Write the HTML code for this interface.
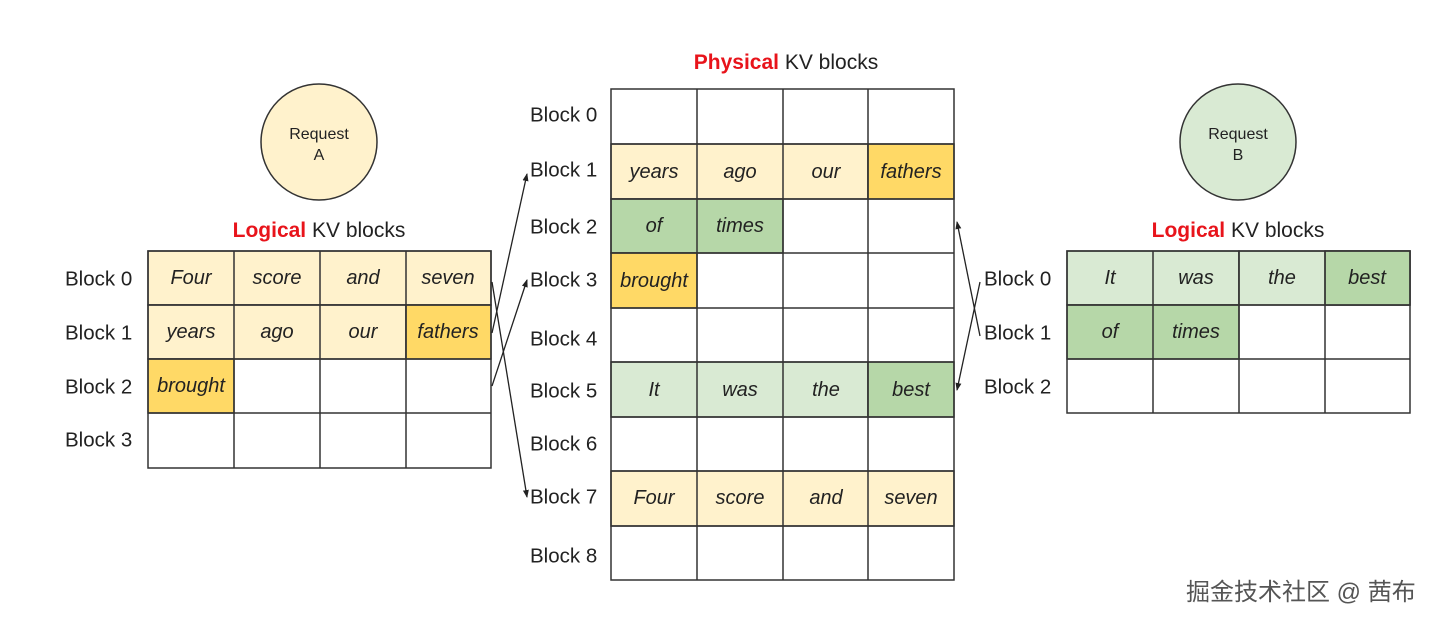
<!DOCTYPE html>
<html><head><meta charset="utf-8"><style>
html,body{margin:0;padding:0;background:#fff;width:1440px;height:624px;overflow:hidden}
svg text{font-family:"Liberation Sans",Arial,sans-serif;fill:#222}
.c{font-style:italic;font-size:20px;text-anchor:middle;dominant-baseline:central}
.l{font-size:20.5px;dominant-baseline:central}
.t{font-size:21px;text-anchor:middle}
</style></head><body>
<svg width="1440" height="624" viewBox="0 0 1440 624" xmlns="http://www.w3.org/2000/svg">
<defs><marker id="a" markerWidth="8" markerHeight="8" refX="7" refY="4" orient="auto" markerUnits="userSpaceOnUse"><path d="M0,1 L8,4 L0,7 z" fill="#222"/></marker></defs>
<circle cx="319" cy="142" r="58" fill="#fff2cc" stroke="#333" stroke-width="1.5"/>
<text x="319" y="139" font-size="16" text-anchor="middle">Request</text>
<text x="319" y="160" font-size="16" text-anchor="middle">A</text>
<circle cx="1238" cy="142" r="58" fill="#d9ead3" stroke="#333" stroke-width="1.5"/>
<text x="1238" y="139" font-size="16" text-anchor="middle">Request</text>
<text x="1238" y="160" font-size="16" text-anchor="middle">B</text>
<text class="t" x="319" y="237"><tspan style="fill:#e8141b;font-weight:bold">Logical</tspan> KV blocks</text>
<text class="t" x="1238" y="237"><tspan style="fill:#e8141b;font-weight:bold">Logical</tspan> KV blocks</text>
<text class="t" x="786" y="69"><tspan style="fill:#e8141b;font-weight:bold">Physical</tspan> KV blocks</text>
<g stroke="#333" stroke-width="1.5">
<rect x="148" y="251" width="343" height="54" fill="#fff2cc"/>
<rect x="148" y="305" width="258" height="54" fill="#fff2cc"/>
<rect x="406" y="305" width="85" height="54" fill="#ffd966"/>
<rect x="148" y="359" width="86" height="54" fill="#ffd966"/>
<rect x="148" y="251" width="343" height="217" fill="none"/>
<path d="M234 251V468M320 251V468M406 251V468M148 305H491M148 359H491M148 413H491" fill="none"/>
</g>
<text class="c" x="191" y="278">Four</text><text class="c" x="277" y="278">score</text><text class="c" x="363" y="278">and</text><text class="c" x="448" y="278">seven</text>
<text class="c" x="191" y="332">years</text><text class="c" x="277" y="332">ago</text><text class="c" x="363" y="332">our</text><text class="c" x="448" y="332">fathers</text>
<text class="c" x="191" y="386">brought</text>
<text class="l" x="65" y="279">Block 0</text><text class="l" x="65" y="333">Block 1</text><text class="l" x="65" y="387">Block 2</text><text class="l" x="65" y="440">Block 3</text>
<g stroke="#333" stroke-width="1.5">
<rect x="611" y="144" width="257" height="55" fill="#fff2cc"/>
<rect x="868" y="144" width="86" height="55" fill="#ffd966"/>
<rect x="611" y="199" width="172" height="54" fill="#b6d7a8"/>
<rect x="611" y="253" width="86" height="55" fill="#ffd966"/>
<rect x="611" y="362" width="257" height="55" fill="#d9ead3"/>
<rect x="868" y="362" width="86" height="55" fill="#b6d7a8"/>
<rect x="611" y="471" width="343" height="55" fill="#fff2cc"/>
<rect x="611" y="89" width="343" height="491" fill="none"/>
<path d="M697 89V580M783 89V580M868 89V580M611 144H954M611 199H954M611 253H954M611 308H954M611 362H954M611 417H954M611 471H954M611 526H954" fill="none"/>
</g>
<text class="c" x="654" y="172">years</text><text class="c" x="740" y="172">ago</text><text class="c" x="826" y="172">our</text><text class="c" x="911" y="172">fathers</text>
<text class="c" x="654" y="226">of</text><text class="c" x="740" y="226">times</text>
<text class="c" x="654" y="281">brought</text>
<text class="c" x="654" y="390">It</text><text class="c" x="740" y="390">was</text><text class="c" x="826" y="390">the</text><text class="c" x="911" y="390">best</text>
<text class="c" x="654" y="498">Four</text><text class="c" x="740" y="498">score</text><text class="c" x="826" y="498">and</text><text class="c" x="911" y="498">seven</text>
<text class="l" x="530" y="115">Block 0</text><text class="l" x="530" y="170">Block 1</text><text class="l" x="530" y="227">Block 2</text><text class="l" x="530" y="280">Block 3</text><text class="l" x="530" y="339">Block 4</text><text class="l" x="530" y="391">Block 5</text><text class="l" x="530" y="444">Block 6</text><text class="l" x="530" y="497">Block 7</text><text class="l" x="530" y="556">Block 8</text>
<g stroke="#333" stroke-width="1.5">
<rect x="1067" y="251" width="172" height="54" fill="#d9ead3"/>
<rect x="1239" y="251" width="171" height="54" fill="#d9ead3"/>
<rect x="1325" y="251" width="85" height="54" fill="#b6d7a8"/>
<rect x="1067" y="305" width="172" height="54" fill="#b6d7a8"/>
<rect x="1067" y="251" width="343" height="162" fill="none"/>
<path d="M1153 251V413M1239 251V413M1325 251V413M1067 305H1410M1067 359H1410" fill="none"/>
</g>
<text class="c" x="1110" y="278">It</text><text class="c" x="1196" y="278">was</text><text class="c" x="1282" y="278">the</text><text class="c" x="1367" y="278">best</text>
<text class="c" x="1110" y="332">of</text><text class="c" x="1196" y="332">times</text>
<text class="l" x="984" y="279">Block 0</text><text class="l" x="984" y="333">Block 1</text><text class="l" x="984" y="387">Block 2</text>
<g stroke="#222" stroke-width="1.3" fill="none" marker-end="url(#a)">
<line x1="492" y1="333" x2="527" y2="174"/>
<line x1="492" y1="386" x2="527" y2="280"/>
<line x1="492" y1="282" x2="527" y2="497"/>
<line x1="980" y1="282" x2="957" y2="390"/>
<line x1="980" y1="336" x2="957" y2="222"/>
</g>
<text x="1186" y="600" font-size="24" style="fill:#555;font-family:'Liberation Sans','Noto Sans CJK SC',sans-serif">掘金技术社区 @ 茜布</text>
</svg>
</body></html>
